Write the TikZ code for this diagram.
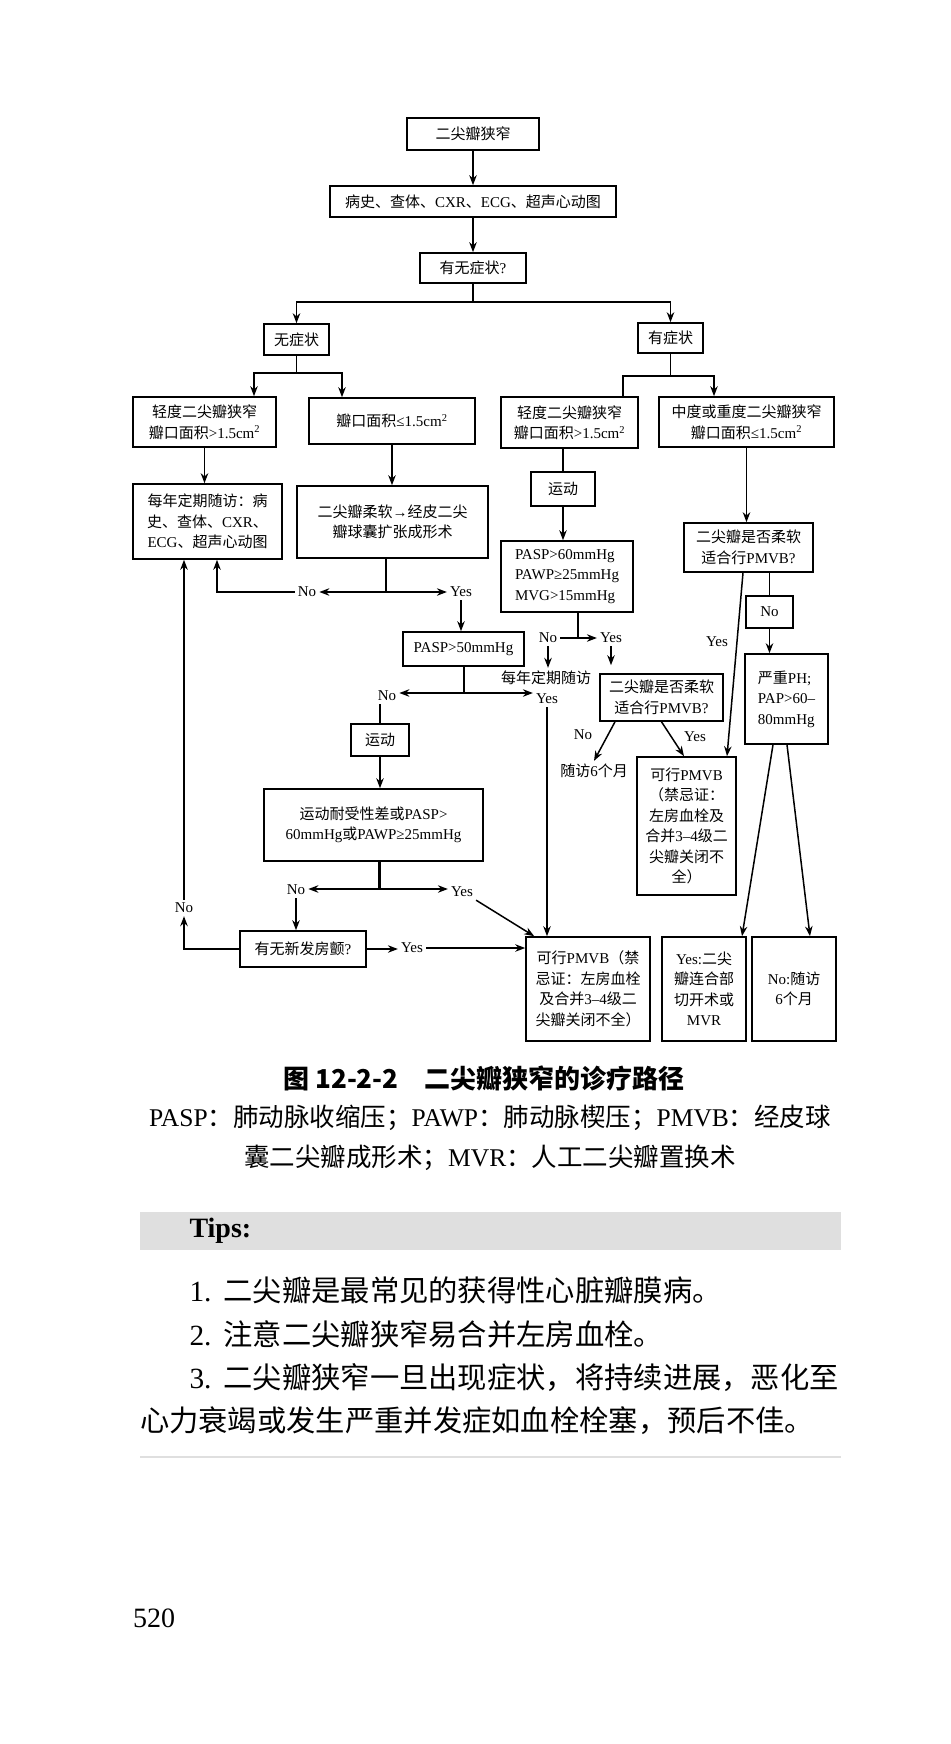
\documentclass[tikz,border=0pt]{standalone}
\usepackage{fontspec}
\setmainfont{Liberation Serif}
\newfontfamily\cjkfont{Noto Sans CJK SC}
\usetikzlibrary{arrows.meta}

% CJK characters switch to the CJK font
\XeTeXinterchartokenstate=1
\newXeTeXintercharclass\cjkclass
\newcount\cjkcnt
\cjkcnt="2E80
\loop
  \XeTeXcharclass\cjkcnt=\cjkclass
  \advance\cjkcnt by 1
\ifnum\cjkcnt<"A000 \repeat
\cjkcnt="FF00
\loop
  \XeTeXcharclass\cjkcnt=\cjkclass
  \advance\cjkcnt by 1
\ifnum\cjkcnt<"FFF0 \repeat
\XeTeXinterchartoks 0 \cjkclass = {\begingroup\cjkfont}
\XeTeXinterchartoks 4095 \cjkclass = {\begingroup\cjkfont}
\XeTeXinterchartoks \cjkclass 0 = {\endgroup}
\XeTeXinterchartoks \cjkclass 4095 = {\endgroup}

\begin{document}
\begin{tikzpicture}[x=1pt, y=-1pt,
	box/.style={draw, line width=1.6pt, align=center, inner sep=2pt, font=\fontsize{15}{20.5}\selectfont},
	lbl/.style={inner sep=3pt, font=\fontsize{15}{18}\selectfont},
	arr/.style={line width=1.5pt, -{Stealth[length=10pt,width=7.5pt]}},
	ln/.style={line width=1.5pt},
	tip/.style={anchor=west, font=\fontsize{29.3}{36}\selectfont}]
		\useasboundingbox (0,0) rectangle (950,1744);

		% top column
		\node[box, minimum width=132, minimum height=32] (mst) at (473,134) {二尖瓣狭窄};
		\node[box, minimum width=286, minimum height=31] (exam) at (473,201.5) {病史、查体、CXR、ECG、超声心动图};
		\node[box, minimum width=106, minimum height=30] (symq) at (473,268) {有无症状?};
		\node[box, minimum width=65, minimum height=31] (asym) at (296.5,339.5) {无症状};
		\node[box, minimum width=65, minimum height=30] (sym) at (670.5,338) {有症状};

		% left branch
		\node[box, minimum width=143, minimum height=50] (amild) at (204.5,422) {轻度二尖瓣狭窄\\瓣口面积>1.5cm\textsuperscript{2}};
		\node[box, minimum width=166, minimum height=46] (asev) at (392,421) {瓣口面积≤1.5cm\textsuperscript{2}};
		\node[box, minimum width=149, minimum height=75] (fu) at (207.5,521.5) {每年定期随访：病\\史、查体、CXR、\\ECG、超声心动图};
		\node[box, minimum width=191, minimum height=72] (pmv1) at (392.5,522) {二尖瓣柔软→经皮二尖\\瓣球囊扩张成形术};
		\node[box, minimum width=121, minimum height=34] (pasp50) at (463.5,649) {PASP>50mmHg};
		\node[box, minimum width=58, minimum height=32] (ex1) at (380,740) {运动};
		\node[box, minimum width=219, minimum height=72] (extol) at (373.5,825) {运动耐受性差或PASP>\\60mmHg或PAWP≥25mmHg};
		\node[box, minimum width=126, minimum height=36] (af) at (303,949) {有无新发房颤?};
		\node[box, minimum width=124, minimum height=104] (pmvb) at (588,989) {可行PMVB（禁\\忌证：左房血栓\\及合并3–4级二\\尖瓣关闭不全）};

		% right branch
		\node[box, minimum width=137, minimum height=51] (smild) at (569.5,422.5) {轻度二尖瓣狭窄\\瓣口面积>1.5cm\textsuperscript{2}};
		\node[box, minimum width=175, minimum height=50] (ssev) at (746.5,422) {中度或重度二尖瓣狭窄\\瓣口面积≤1.5cm\textsuperscript{2}};
		\node[box, minimum width=64, minimum height=34] (ex2) at (563,489) {运动};
		\node[box, minimum width=132, minimum height=71, align=left] (pasp60) at (567,576.5) {PASP>60mmHg\\PAWP≥25mmHg\\MVG>15mmHg};
		\node[box, minimum width=123, minimum height=47] (soft2) at (661.5,697.5) {二尖瓣是否柔软\\适合行PMVB?};
		\node[box, minimum width=99, minimum height=138] (pmvb2) at (686.5,826) {可行PMVB\\（禁忌证：\\左房血栓及\\合并3–4级二\\尖瓣关闭不\\全）};
		\node[box, minimum width=129, minimum height=49] (soft3) at (748.5,547.5) {二尖瓣是否柔软\\适合行PMVB?};
		\node[box, minimum width=47, minimum height=32] (no6) at (769.5,612) {No};
		\node[box, minimum width=83, minimum height=90, align=left] (ph) at (786.5,699) {严重PH;\\PAP>60–\\80mmHg};
		\node[box, minimum width=84, minimum height=104] (mvr) at (704,989) {Yes:二尖\\瓣连合部\\切开术或\\MVR};
		\node[box, minimum width=84, minimum height=104] (fu6) at (794,989) {No:随访\\6个月};

		% labels
		\node[lbl] (no1) at (307,592) {No};
		\node[lbl] (yes1) at (461,592) {Yes};
		\node[lbl] (no2) at (387,696) {No};
		\node[lbl] (yes2) at (547,699) {Yes};
		\node[lbl] (no4) at (548,638) {No};
		\node[lbl] (yes5) at (611,638) {Yes};
		\node[lbl] (fu2) at (546,678) {每年定期随访};
		\node[lbl] (no7) at (583,735) {No};
		\node[lbl] (fu3) at (594,771) {随访6个月};
		\node[lbl] (yes6) at (695,737) {Yes};
		\node[lbl] (yes7) at (717,642) {Yes};
		\node[lbl] (no3) at (296,890) {No};
		\node[lbl] (yes3) at (462,892) {Yes};
		\node[lbl] (yes4) at (412,948) {Yes};
		\node[lbl] (no5) at (184,908) {No};

		% junctions
		\coordinate (jtop) at (473,302);
		\coordinate (jl) at (296,373);
		\coordinate (j2) at (386,592);
		\coordinate (j3) at (464,693);
		\coordinate (j4) at (379,889);
		\coordinate (jr) at (672,376);
		\coordinate (j6) at (578,638);

		% top connectors
		\draw[arr] (mst.south) -- (exam.north);
		\draw[arr] (exam.south) -- (symq.north);
		\draw[ln] (symq.south) -- (jtop);
		\draw[arr] (jtop) -| (asym.north);
		\draw[arr] (jtop) -| (sym.north);

		% left connectors
		\draw[ln] (asym.south) -- (asym.south |- jl);
		\draw[arr] (jl) -| ([xshift=49.5]amild.north);
		\draw[arr] (jl) -| ([xshift=-50]asev.north);
		\draw[arr] (amild.south) -- (amild.south |- fu.north);
		\draw[arr] (asev.south) -- (asev.south |- pmv1.north);
		\draw[ln] (pmv1.south -| j2) -- (j2);
		\draw[arr] (j2) -- (no1.east);
		\draw[arr] (j2) -- (yes1.west);
		\draw[arr] (no1.west) -| ([xshift=9.5]fu.south);
		\draw[arr] (yes1.south) -- (yes1.south |- pasp50.north);
		\draw[ln] (pasp50.south -| j3) -- (j3);
		\draw[arr] (j3) -- (j3 -| no2.east);
		\draw[arr] (j3) -- (j3 -| yes2.west);
		\draw[ln] (ex1.north |- no2.south) -- (ex1.north);
		\draw[arr] (ex1.south) -- (ex1.south |- extol.north);
		\draw[line width=3pt] (extol.south -| j4) -- (j4);
		\draw[arr] (j4) -- (j4 -| no3.east);
		\draw[arr] (j4) -- (j4 -| yes3.west);
		\draw[arr] (no3.south) -- (no3.south |- af.north);
		\draw[arr] (af.east) -- (af.east -| yes4.west);
		\draw[arr] (yes4.east) -- (yes4.east -| pmvb.west);
		\draw[arr] (yes3.south east) -- ([xshift=9]pmvb.north west);
		\draw[arr] (yes2.south) -- (yes2.south |- pmvb.north);
		\draw[arr] (af.west) -| (no5.south);
		\draw[arr] (no5.north) -- (no5.north |- fu.south);

		% right connectors
		\draw[ln] (sym.south) -- (sym.south |- jr);
		\draw[ln] (jr) -| ([xshift=53.5]smild.north);
		\draw[arr] (jr) -| ([xshift=-32.5]ssev.north);
		\draw[ln] (ex2.north |- smild.south) -- (ex2.north);
		\draw[arr] (ex2.south) -- (ex2.south |- pasp60.north);
		\draw[ln] (pasp60.south -| j6) -- (j6);
		\draw[arr] (no4.east) -- (yes5.west);
		\draw[arr] (no4.south) -- (no4.south |- fu2.north);
		\draw[arr, shorten >=8pt] (yes5.south) -- (yes5.south |- soft2.north);
		\draw[arr] ([xshift=-46.5]soft2.south) -- (fu3.north);
		\draw[arr] (soft2.south) -- ([xshift=-2.5]pmvb2.north);
		\draw[arr] (ssev.south) -- (ssev.south |- soft3.north);
		\draw[arr] ([xshift=-5.5]soft3.south) -- ([xshift=40.5]pmvb2.north);
		\draw[ln] (no6.north |- soft3.south) -- (no6.north);
		\draw[arr] (no6.south) -- (no6.south |- ph.north);
		\draw[arr] ([xshift=-13.5]ph.south) -- ([xshift=38]mvr.north);
		\draw[arr] ([xshift=0.5]ph.south) -- ([xshift=16]fu6.north);

		% caption
		\node (cap) at (484,1078) {\fontsize{26}{30}\selectfont\cjkfont\bfseries 图 12-2-2\quad 二尖瓣狭窄的诊疗路径};
		\node (abbr1) at (490,1118) {\fontsize{25.5}{30}\selectfont PASP：肺动脉收缩压；PAWP：肺动脉楔压；PMVB：经皮球};
		\node (abbr2) at (490,1158) {\fontsize{25.5}{30}\selectfont 囊二尖瓣成形术；MVR：人工二尖瓣置换术};

		% tips
		\fill[gray!25] (140,1212) rectangle (841,1250);
		\node[anchor=west] (tips) at (186,1231) {\fontsize{28}{30}\selectfont\bfseries Tips:};
		\node[tip] (tip1) at (186,1290) {1.\kern12pt 二尖瓣是最常见的获得性心脏瓣膜病。};
		\node[tip] (tip2) at (186,1334) {2.\kern12pt 注意二尖瓣狭窄易合并左房血栓。};
		\node[tip] (tip3) at (186,1378) {3.\kern12pt 二尖瓣狭窄一旦出现症状，将持续进展，恶化至};
		\node[tip] (tip4) at (136.5,1421) {心力衰竭或发生严重并发症如血栓栓塞，预后不佳。};
		\draw[gray!25, line width=1.5pt] (140,1457) -- (841,1457);

		% page number
		\node (page) at (154,1618) {\fontsize{28}{30}\selectfont 520};
	\end{tikzpicture}
\end{document}
